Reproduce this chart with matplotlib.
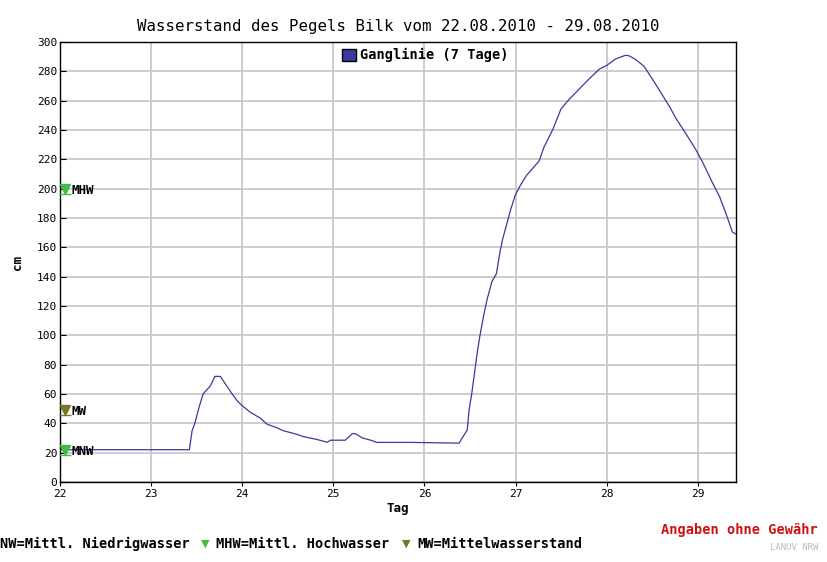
import matplotlib.pyplot as plt
import matplotlib.patches as mpatches
from matplotlib.transforms import offset_copy

# ------------------------------------------------
# DATA
# ------------------------------------------------
tag = [22.00, 23.42, 23.45, 23.48, 23.52, 23.57, 23.65, 23.70, 23.76, 23.83,
       23.89, 23.95, 24.00, 24.09, 24.20, 24.27, 24.38, 24.45, 24.60, 24.67,
       24.82, 24.91, 24.93, 24.97, 25.13, 25.21, 25.24, 25.32, 25.41, 25.48,
       25.85, 26.38, 26.415, 26.47, 26.49, 26.52, 26.56, 26.585, 26.61, 26.65,
       26.69, 26.74, 26.79, 26.83, 26.86, 26.90, 26.95, 27.00, 27.06, 27.12,
       27.19, 27.26, 27.31, 27.41, 27.50, 27.59, 27.70, 27.81, 27.92, 28.00,
       28.10, 28.21, 28.25, 28.32, 28.41, 28.51, 28.60, 28.69, 28.76, 28.87,
       28.98, 29.05, 29.15, 29.24, 29.31, 29.38, 29.42]

wasserstand = [22, 22, 35, 40, 49.5, 60, 65.5, 72, 72, 65.5,
               60, 55, 52, 47.5, 43.5, 39.5, 37, 35, 32.5, 31,
               29, 27.5, 27, 28.5, 28.5, 33, 33, 30, 28.5, 27,
               27, 26.5, 30, 35.5, 49, 60.5, 79, 90.5, 100, 113.5,
               125, 136.5, 142, 157, 166, 175, 186.5, 196, 203, 209,
               214, 219, 228, 240.5, 254.5, 261, 268, 275, 281.5, 284,
               288.5, 291, 290.5, 288, 283.5, 274, 265, 256, 248, 237.5,
               226.5, 218.5, 205.5, 194.5, 183, 170.5, 169]

kennwert_namen = ["MHW", "MW", "MNW"]
kennwert_werte = [200, 49, 22]
kennwert_farben = ["#44bb44", "#777722", "#44bb44"]

x_ticks = [22, 23, 24, 25, 26, 27, 28, 29]
y_ticks = list(range(0, 301, 20))

MONO = "DejaVu Sans Mono"
LINE_COLOR = "#3a3a9c"

# ------------------------------------------------
# PLOT
# ------------------------------------------------
fig = plt.figure(figsize=(8.27, 5.62), dpi=100)
ax = fig.add_axes([60 / 827, 1 - 482 / 562, 676 / 827, 440 / 562])

ax.plot(tag, wasserstand, color=LINE_COLOR, linewidth=0.9, zorder=3)

ax.set_xlim(22, 29.42)
ax.set_ylim(0, 300)
ax.set_xticks(x_ticks)
ax.set_yticks(y_ticks)
ax.set_xticklabels([str(t) for t in x_ticks], fontfamily=MONO, fontsize=8)
ax.set_yticklabels([str(t) for t in y_ticks], fontfamily=MONO, fontsize=8)
ax.tick_params(axis="y", direction="in", length=4, pad=2)
ax.tick_params(axis="x", direction="out", length=3, pad=2)

ax.grid(True, color="#c8c8c8", linewidth=1.3, zorder=0)
ax.set_axisbelow(True)
for s in ax.spines.values():
    s.set_color("black")
    s.set_linewidth(1.0)

ax.set_title("Wasserstand des Pegels Bilk vom 22.08.2010 - 29.08.2010",
             fontfamily=MONO, fontsize=11.3, pad=8)
ax.set_xlabel("Tag", fontfamily=MONO, fontweight="bold", fontsize=9, labelpad=2)
ax.set_ylabel("cm", fontfamily=MONO, fontweight="bold", fontsize=9, labelpad=9)

# Kennwerte am linken Rand
for name, wert, farbe in zip(kennwert_namen, kennwert_werte, kennwert_farben):
    ax.plot([22.05], [wert], marker="v", color=farbe, markersize=7,
            linestyle="none", clip_on=False, zorder=4)
    below = offset_copy(ax.transData, fig=fig, x=0, y=-3.5, units="points")
    ax.plot([22.05], [wert], marker="_", color=farbe, markersize=9,
            markeredgewidth=1.0, linestyle="none", transform=below,
            clip_on=False, zorder=4)
    ax.text(22.13, wert - 1, name, fontfamily=MONO, fontweight="bold",
            fontsize=9, va="center", ha="left", zorder=5)

# Legende
patch = mpatches.Patch(facecolor=LINE_COLOR, edgecolor="black",
                       label="Ganglinie (7 Tage)")
leg = ax.legend(handles=[patch], loc="upper left",
                bbox_to_anchor=(330 / 827, 1 - 36 / 562),
                bbox_transform=fig.transFigure, frameon=False,
                handlelength=1.0, handleheight=1.0, handletextpad=0.3,
                prop={"family": MONO, "weight": "bold", "size": 9.8})

# Fusszeile
fig.text(0 / 827, 1 - 544 / 562, "NW=Mittl. Niedrigwasser", fontfamily=MONO,
         fontweight="bold", fontsize=9.8, va="center", ha="left")
fig.text(205 / 827, 1 - 544 / 562, "▼", color="#44bb44", fontsize=8,
         va="center", ha="center")
fig.text(216 / 827, 1 - 544 / 562, "MHW=Mittl. Hochwasser", fontfamily=MONO,
         fontweight="bold", fontsize=9.8, va="center", ha="left")
fig.text(406 / 827, 1 - 544 / 562, "▼", color="#777722", fontsize=8,
         va="center", ha="center")
fig.text(417 / 827, 1 - 544 / 562, "MW=Mittelwasserstand", fontfamily=MONO,
         fontweight="bold", fontsize=9.8, va="center", ha="left")

fig.text(818 / 827, 1 - 530 / 562, "Angaben ohne Gewähr", color="#cc1111",
         fontfamily=MONO, fontweight="bold", fontsize=9.8, va="center", ha="right")
fig.text(818 / 827, 1 - 548 / 562, "LANUV NRW", color="#bbbbbb",
         fontfamily=MONO, fontsize=6.5, va="center", ha="right")

fig.savefig("out.png", dpi=100)
